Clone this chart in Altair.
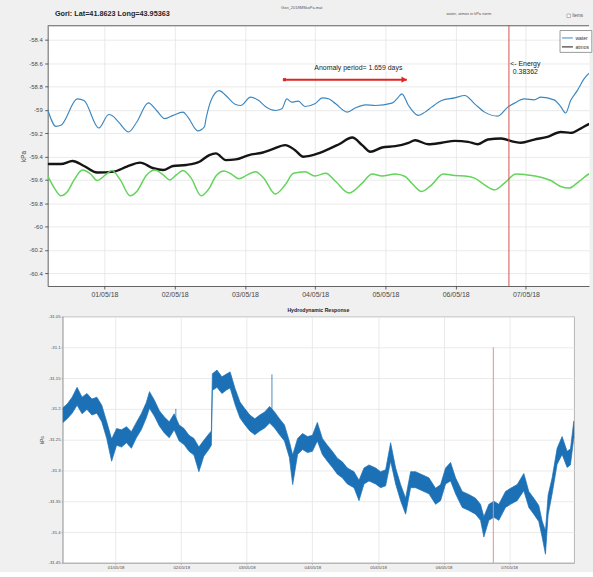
import altair as alt
import pandas as pd

BASE = pd.Timestamp("2018-05-01 00:00:00")

# ---------------- upper panel (kPa), hours counted from 01/05/18 00:00 ----------------
water_h = [-19.38, -16.56, -14.87, -9.24, -6.99, -1.92, 1.46, 2.59, 4.85, 8.23,
           11.04, 14.99, 17.80, 20.62, 23.44, 26.82, 28.51, 31.89, 34.14, 34.71,
           36.40, 39.21, 41.47, 44.85, 46.54, 49.92, 52.73, 54.99, 58.37, 60.62,
           62.31, 64.00, 66.26, 68.51, 71.89, 74.49, 76.75, 79.01, 82.97, 85.79,
           89.18, 92.58, 98.23, 99.92, 101.62, 103.88, 107.27, 109.53, 111.79, 115.19,
           119.71, 123.10, 126.49, 129.88, 134.40, 137.80, 140.06, 143.45, 146.84, 149.10,
           153.62, 155.88, 157.58, 159.28, 161.54, 163.80, 165.94, 167.70]
water_kpa = [-59.000, -59.142, -59.133, -58.907, -58.921, -59.156, -59.040, -59.048, -59.105, -59.190,
             -59.105, -58.941, -59.006, -59.076, -59.048, -59.020, -59.062, -59.181, -59.147, -59.076,
             -58.921, -58.836, -58.878, -58.955, -58.963, -58.892, -58.921, -58.972, -59.006, -58.992,
             -58.907, -58.935, -58.926, -58.972, -58.949, -58.898, -58.907, -58.949, -59.020, -58.983,
             -58.958, -58.963, -58.943, -58.907, -58.864, -58.963, -59.048, -59.020, -58.977, -58.921,
             -58.898, -58.878, -58.949, -59.020, -59.054, -58.977, -58.943, -58.907, -58.915, -58.892,
             -58.915, -58.972, -59.028, -58.921, -58.836, -58.737, -58.680, -58.660]

atmos_h = [-19.38, -14.87, -10.93, -6.99, -2.48, 3.16, 7.66, 12.17, 16.68, 20.06,
           23.44, 27.94, 32.45, 35.83, 38.09, 41.47, 44.85, 49.35, 53.86, 57.24,
           61.75, 65.13, 67.95, 73.02, 74.49, 80.14, 84.66, 88.05, 90.88, 94.84,
           99.36, 103.88, 106.14, 110.66, 115.19, 119.71, 124.23, 127.62, 131.01, 135.53,
           140.06, 142.32, 146.84, 151.36, 155.88, 159.28, 162.67, 165.94, 167.70]
atmos_kpa = [-59.465, -59.465, -59.439, -59.482, -59.538, -59.530, -59.487, -59.453, -59.501, -59.516,
             -59.482, -59.473, -59.445, -59.388, -59.374, -59.431, -59.425, -59.388, -59.368, -59.340,
             -59.303, -59.346, -59.402, -59.374, -59.360, -59.295, -59.238, -59.303, -59.360, -59.323,
             -59.312, -59.283, -59.261, -59.295, -59.283, -59.266, -59.275, -59.295, -59.255, -59.246,
             -59.275, -59.283, -59.255, -59.232, -59.190, -59.198, -59.161, -59.119, -59.110]

tide_h = [-19.38, -17.13, -14.87, -12.62, -10.37, -7.55, -4.73, -2.48, 0.34, 2.59,
          5.41, 8.79, 11.04, 14.42, 17.24, 20.06, 22.31, 24.56, 26.82, 29.63,
          33.02, 35.83, 38.09, 40.90, 43.72, 45.97, 48.79, 51.61, 54.43, 58.37,
          61.75, 64.57, 68.51, 71.89, 75.62, 79.01, 83.53, 88.05, 91.44, 94.84,
          99.36, 102.75, 105.01, 108.40, 111.79, 115.75, 119.71, 123.10, 126.49, 129.88,
          133.27, 136.66, 140.62, 144.58, 149.10, 152.49, 155.88, 158.71, 162.10, 165.94,
          167.70]
tide_kpa = [-59.567, -59.671, -59.737, -59.700, -59.601, -59.516, -59.550, -59.606, -59.558, -59.521,
            -59.601, -59.737, -59.700, -59.558, -59.516, -59.558, -59.601, -59.558, -59.521, -59.586,
            -59.737, -59.671, -59.567, -59.524, -59.558, -59.592, -59.558, -59.530, -59.586, -59.722,
            -59.643, -59.544, -59.530, -59.567, -59.544, -59.615, -59.714, -59.629, -59.550, -59.567,
            -59.550, -59.572, -59.629, -59.700, -59.643, -59.550, -59.564, -59.567, -59.586, -59.643,
            -59.686, -59.629, -59.550, -59.558, -59.578, -59.606, -59.657, -59.671, -59.615, -59.544,
            -59.530]

top_y_ticks = [-58.4, -58.6, -58.8, -59.0, -59.2, -59.4, -59.6, -59.8, -60.0, -60.2, -60.4]

# anomaly arrow and energy marker
anomaly_start_h = 61.5
anomaly_end_h = 103.3
anomaly_head_h = 102.4
anomaly_kpa = -58.742
anomaly_label = "Anomaly period= 1.659 days"
anomaly_label_h = 86.75
anomaly_label_kpa = -58.643
energy_h = 138.2
energy_label = "<- Energy\n0.38362"
energy_label_kpa = -58.575

# ---------------- lower panel: hydrodynamic response envelope (kPa) ----------------
resp_h = [-19.27, -17.70, -15.90, -14.09, -12.28, -10.48, -8.67, -6.86, -5.06, -3.25,
          -1.45, 0.36, 2.17, 3.97, 5.78, 7.59, 9.39, 11.20, 12.40, 14.21,
          16.02, 17.82, 19.63, 21.43, 23.24, 25.05, 26.85, 28.66, 30.47, 32.27,
          34.08, 35.04, 35.40, 37.09, 38.90, 40.70, 41.91, 43.71, 45.52, 47.33,
          49.13, 50.94, 52.74, 54.55, 56.36, 58.16, 59.97, 61.78, 63.58, 64.79,
          66.59, 68.40, 70.21, 72.01, 73.82, 75.65, 77.48, 79.31, 81.14, 82.96,
          84.79, 87.23, 89.06, 90.88, 92.71, 95.15, 96.97, 98.80, 100.63, 102.46,
          104.28, 106.11, 107.94, 109.77, 112.20, 114.64, 117.08, 118.90, 120.73, 122.56,
          124.39, 126.82, 129.26, 131.70, 133.52, 134.74, 136.57, 138.40, 140.22, 142.66,
          144.49, 146.92, 149.36, 151.19, 153.02, 154.84, 156.06, 157.28, 158.25, 159.72,
          161.54, 163.37, 165.20, 166.42, 167.64, 167.80]
resp_hi = [-31.198, -31.192, -31.181, -31.165, -31.181, -31.175, -31.184, -31.181, -31.194, -31.221,
           -31.249, -31.232, -31.234, -31.229, -31.237, -31.222, -31.208, -31.190, -31.172, -31.186,
           -31.203, -31.213, -31.221, -31.208, -31.226, -31.232, -31.243, -31.248, -31.262, -31.251,
           -31.241, -31.236, -31.143, -31.137, -31.148, -31.143, -31.140, -31.167, -31.189, -31.200,
           -31.210, -31.216, -31.210, -31.205, -31.196, -31.205, -31.216, -31.226, -31.253, -31.275,
           -31.248, -31.240, -31.245, -31.243, -31.222, -31.248, -31.259, -31.269, -31.280, -31.286,
           -31.296, -31.302, -31.316, -31.296, -31.291, -31.296, -31.302, -31.299, -31.255, -31.296,
           -31.323, -31.345, -31.302, -31.302, -31.307, -31.312, -31.329, -31.323, -31.296, -31.287,
           -31.312, -31.334, -31.339, -31.345, -31.355, -31.375, -31.355, -31.350, -31.355, -31.334,
           -31.329, -31.323, -31.305, -31.334, -31.345, -31.357, -31.382, -31.398, -31.340, -31.312,
           -31.264, -31.245, -31.269, -31.265, -31.220, -31.220]
resp_lo = [-31.222, -31.216, -31.207, -31.194, -31.208, -31.201, -31.210, -31.207, -31.221, -31.248,
           -31.285, -31.259, -31.262, -31.255, -31.264, -31.247, -31.234, -31.215, -31.199, -31.212,
           -31.228, -31.239, -31.247, -31.234, -31.252, -31.258, -31.269, -31.275, -31.302, -31.277,
           -31.266, -31.259, -31.170, -31.165, -31.175, -31.169, -31.166, -31.193, -31.215, -31.226,
           -31.236, -31.242, -31.236, -31.231, -31.223, -31.231, -31.242, -31.252, -31.279, -31.323,
           -31.274, -31.266, -31.271, -31.269, -31.252, -31.274, -31.285, -31.295, -31.306, -31.312,
           -31.322, -31.328, -31.349, -31.322, -31.317, -31.322, -31.328, -31.325, -31.285, -31.322,
           -31.349, -31.371, -31.328, -31.328, -31.333, -31.338, -31.355, -31.349, -31.322, -31.317,
           -31.338, -31.360, -31.365, -31.371, -31.381, -31.408, -31.381, -31.376, -31.381, -31.360,
           -31.355, -31.349, -31.333, -31.360, -31.371, -31.383, -31.408, -31.436, -31.372, -31.338,
           -31.290, -31.274, -31.295, -31.291, -31.247, -31.247]
spike_h = [22.04, 57.20]
spike_lo = [-31.225, -31.215]
spike_hi = [-31.200, -31.144]
energy_rule_lo = -31.45
energy_rule_hi = -31.10
bottom_y_ticks = [-31.05, -31.1, -31.15, -31.2, -31.25, -31.3, -31.35, -31.4, -31.45]

assert len(water_h) == len(water_kpa)
assert len(atmos_h) == len(atmos_kpa)
assert len(tide_h) == len(tide_kpa)
assert len(resp_h) == len(resp_hi) == len(resp_lo)

# ---------------- styling ----------------
FONT = "Liberation Sans"
BG = "#f0f0f0"
WATER = "#3a87c0"
ATMOS = "#151515"
TIDE = "#62d45a"
RESP = "#1c71b6"
RED = "#d65353"
ARROW = "#e02424"
AXIS = "#3c3c3c"
LABEL = "#4a4a4a"
GRID = "#e4e4e4"
BOX = "#a6a6a6"

TOP_W, TOP_H = 545, 262
BOT_W, BOT_H = 515, 248
TOP_LEFT_GAP = 16.8    # room left of the upper panel's "kPa" title
BOT_LEFT_GAP = 36.4    # room left of the lower panel's "kPa" title

T0 = alt.DateTime(year=2018, month=4, date=30, hours=4, minutes=36)
T_TOP_END = alt.DateTime(year=2018, month=5, date=7, hours=21, minutes=34)
T_BOT_END = alt.DateTime(year=2018, month=5, date=7, hours=23, minutes=46)
DAY_TICKS = [alt.DateTime(year=2018, month=5, date=d) for d in range(1, 8)]
MINUS_FIX = "replace(datum.label, '\u2212', '-')"


def stamp(hours):
    return [BASE + pd.Timedelta(hours=h) for h in hours]


one_row = pd.DataFrame({"k": [0]})

series_df = pd.concat([
    pd.DataFrame({"t": stamp(water_h), "kpa": water_kpa, "series": "water"}),
    pd.DataFrame({"t": stamp(atmos_h), "kpa": atmos_kpa, "series": "atmos"}),
])
tide_df = pd.DataFrame({"t": stamp(tide_h), "kpa": tide_kpa})
energy_df = pd.DataFrame({"t": stamp([energy_h]), "kpa": [energy_label_kpa],
                          "label": [energy_label],
                          "lo": [energy_rule_lo], "hi": [energy_rule_hi]})
arrow_df = pd.DataFrame({"t": stamp([anomaly_start_h]), "t2": stamp([anomaly_end_h]),
                         "kpa": [anomaly_kpa]})
head_df = pd.DataFrame({"t": stamp([anomaly_head_h]), "kpa": [anomaly_kpa]})
anom_txt_df = pd.DataFrame({"t": stamp([anomaly_label_h]), "kpa": [anomaly_label_kpa],
                            "label": [anomaly_label]})
resp_df = pd.DataFrame({"t": stamp(resp_h), "hi": resp_hi, "lo": resp_lo})
spike_df = pd.DataFrame({"t": stamp(spike_h), "hi": spike_hi, "lo": spike_lo})

# ---------------- upper panel ----------------
top_x_axis = alt.Axis(values=DAY_TICKS, format="%d/%m/%y", labelFontSize=7,
                      labelColor=LABEL, labelOverlap=False, labelFlush=False,
                      grid=True, gridColor=GRID, gridWidth=0.8,
                      domainColor=AXIS, domainWidth=0.8, tickColor=AXIS,
                      tickSize=3, tickWidth=0.8, labelPadding=1.5)
top_y_axis = alt.Axis(values=top_y_ticks, format=".4~g", labelExpr=MINUS_FIX,
                      labelFontSize=6, labelColor=LABEL, labelPadding=2.5,
                      labelOverlap=False, labelFlush=False,
                      grid=True, gridColor=GRID, gridWidth=0.8,
                      domainColor=AXIS, domainWidth=0.8, tickColor=AXIS,
                      tickSize=3, tickWidth=0.8,
                      titleFontSize=6.5, titleFontWeight="normal",
                      titleColor=LABEL, titleX=-24.7, titleBaseline="middle")
top_x_scale = alt.Scale(domain=[T0, T_TOP_END])
top_y_scale = alt.Scale(domain=[-60.51, -58.28], nice=False, zero=False)
tx = alt.X("t:T", scale=top_x_scale, axis=top_x_axis, title=None)
ty = alt.Y("kpa:Q", scale=top_y_scale, axis=top_y_axis, title="kPa")

lines = alt.Chart(series_df).mark_line(clip=True, interpolate="monotone").encode(
    x=tx, y=ty,
    color=alt.Color("series:N",
                    scale=alt.Scale(domain=["water", "atmos"], range=[WATER, ATMOS]),
                    legend=alt.Legend(title=None, orient="none", legendX=515.3, legendY=4.3,
                                      direction="vertical", symbolType="stroke",
                                      symbolSize=121, symbolStrokeWidth=1,
                                      labelFontSize=5, labelColor="#333333",
                                      labelOffset=2, padding=2, rowPadding=0,
                                      fillColor="white", strokeColor="#9a9a9a")),
    strokeWidth=alt.StrokeWidth("series:N",
                                scale=alt.Scale(domain=["water", "atmos"], range=[1.15, 2.4]),
                                legend=None),
)
tide = alt.Chart(tide_df).mark_line(color=TIDE, strokeWidth=1.5, interpolate="monotone",
                                    clip=True).encode(x=tx, y=ty)
energy_rule = alt.Chart(energy_df).mark_rule(color=RED, strokeWidth=1).encode(x=tx)
arrow_body = alt.Chart(arrow_df).mark_rule(color=ARROW, strokeWidth=2).encode(
    x=tx, x2="t2:T", y=ty)
arrow_head = alt.Chart(head_df).mark_point(shape="triangle-right", filled=True, size=38,
                                           color=ARROW, opacity=1).encode(x=tx, y=ty)
arrow_tail = alt.Chart(arrow_df).mark_square(size=10, color=ARROW, opacity=1).encode(x=tx, y=ty)
anomaly_text = alt.Chart(anom_txt_df).mark_text(fontSize=7, color="#222222", align="center",
                                                baseline="middle").encode(
    x=tx, y=ty, text="label:N")
energy_text = alt.Chart(energy_df).mark_text(fontSize=7, color="#222222", align="center",
                                             baseline="top", lineBreak="\n", lineHeight=8,
                                             dx=16.5).encode(x=tx, y=ty, text="label:N")
top_border = alt.Chart(one_row).mark_rule(color=AXIS, strokeWidth=0.8).encode(
    x=alt.value(0), x2=alt.value(TOP_W), y=alt.value(0))

# figure heading and small header texts above the upper axes
title_text = alt.Chart(one_row).mark_text(fontSize=7.3, fontWeight="bold", color="#262626",
                                          align="left", baseline="middle").encode(
    x=alt.value(7.3), y=alt.value(-12), text=alt.value("Gori: Lat=41.8623 Long=43.95363"))
file_text = alt.Chart(one_row).mark_text(fontSize=4, color="#555555", align="left",
                                         baseline="middle").encode(
    x=alt.value(235), y=alt.value(-17.7), text=alt.value("Gori_2018MSkoPa.mat"))
units_text = alt.Chart(one_row).mark_text(fontSize=4, color="#555555", align="center",
                                          baseline="middle").encode(
    x=alt.value(424), y=alt.value(-11.7), text=alt.value("water, atmos in kPa norm"))
check_box = alt.Chart(one_row).mark_point(shape="square", filled=True, fill="white",
                                          stroke="#888888", strokeWidth=0.6, size=12,
                                          opacity=1).encode(
    x=alt.value(524.5), y=alt.value(-10))
items_text = alt.Chart(one_row).mark_text(fontSize=4.5, color="#555555", align="left",
                                          baseline="middle").encode(
    x=alt.value(528), y=alt.value(-10), text=alt.value("Items"))

top = alt.layer(
    lines, tide, energy_rule, arrow_body, arrow_tail, arrow_head, anomaly_text,
    energy_text, top_border, title_text, file_text, units_text, check_box, items_text,
).properties(
    width=TOP_W, height=TOP_H,
    view=alt.ViewBackground(fill="white", stroke="transparent"),
)

# ---------------- lower panel ----------------
bot_x_axis = alt.Axis(values=DAY_TICKS, format="%d/%m/%y", labelFontSize=4.3,
                      labelColor=LABEL, labelOverlap=False, labelFlush=False,
                      grid=True, gridColor=GRID, gridWidth=0.8,
                      domainColor=BOX, domainWidth=0.8, tickColor=BOX,
                      tickSize=1.5, tickWidth=0.8, labelPadding=0.8)
bot_y_axis = alt.Axis(values=bottom_y_ticks, format=".4~g", labelExpr=MINUS_FIX,
                      labelFontSize=4.3, labelColor=LABEL, labelPadding=1,
                      labelOverlap=False, labelFlush=False,
                      grid=True, gridColor=GRID, gridWidth=0.8,
                      domainColor=BOX, domainWidth=0.8, tickColor=BOX,
                      tickSize=1.5, tickWidth=0.8,
                      titleFontSize=4.5, titleFontWeight="normal",
                      titleColor=LABEL, titleX=-20.7, titleBaseline="middle")
bot_x_scale = alt.Scale(domain=[T0, T_BOT_END])
bot_y_scale = alt.Scale(domain=[-31.45, -31.05], nice=False, zero=False)
bx = alt.X("t:T", scale=bot_x_scale, axis=bot_x_axis, title=None)

band = alt.Chart(resp_df).mark_area(color=RESP, opacity=1, clip=True, stroke=RESP,
                                    strokeWidth=0.7, strokeJoin="miter").encode(
    x=bx, y=alt.Y("hi:Q", scale=bot_y_scale, axis=bot_y_axis, title="kPa"), y2="lo:Q")
spikes = alt.Chart(spike_df).mark_rule(color=RESP, strokeWidth=0.8).encode(
    x=bx, y=alt.Y("lo:Q", scale=bot_y_scale, axis=bot_y_axis, title="kPa"), y2="hi:Q")
bot_energy = alt.Chart(energy_df).mark_rule(color="#e39090", strokeWidth=1).encode(
    x=bx, y=alt.Y("lo:Q", scale=bot_y_scale, axis=bot_y_axis, title="kPa"), y2="hi:Q")

bottom = alt.layer(band, spikes, bot_energy).properties(
    width=BOT_W, height=BOT_H,
    title=alt.TitleParams("Hydrodynamic Response", anchor="middle", frame="group",
                          fontSize=5.2, fontWeight="bold", color="#222222", offset=1.4),
    view=alt.ViewBackground(fill="white", stroke=BOX, strokeWidth=0.8),
)


def gap(width):
    """Empty background-coloured block used to offset a panel horizontally."""
    return alt.Chart(one_row).mark_point(opacity=0).encode(
        x=alt.X("k:Q", axis=None), y=alt.Y("k:Q", axis=None)
    ).properties(width=width, height=10,
                 view=alt.ViewBackground(fill=BG, stroke="transparent"))


chart = alt.vconcat(
    alt.hconcat(gap(TOP_LEFT_GAP), top, spacing=0).resolve_scale(color="independent"),
    alt.hconcat(gap(BOT_LEFT_GAP), bottom, spacing=0),
    spacing=9.7,
).resolve_scale(color="independent").properties(
    background=BG,
    padding={"left": 0, "top": 3, "right": 0, "bottom": 0},
).configure(font=FONT)

chart.save("out.html", embed_options={"renderer": "svg", "actions": False})
